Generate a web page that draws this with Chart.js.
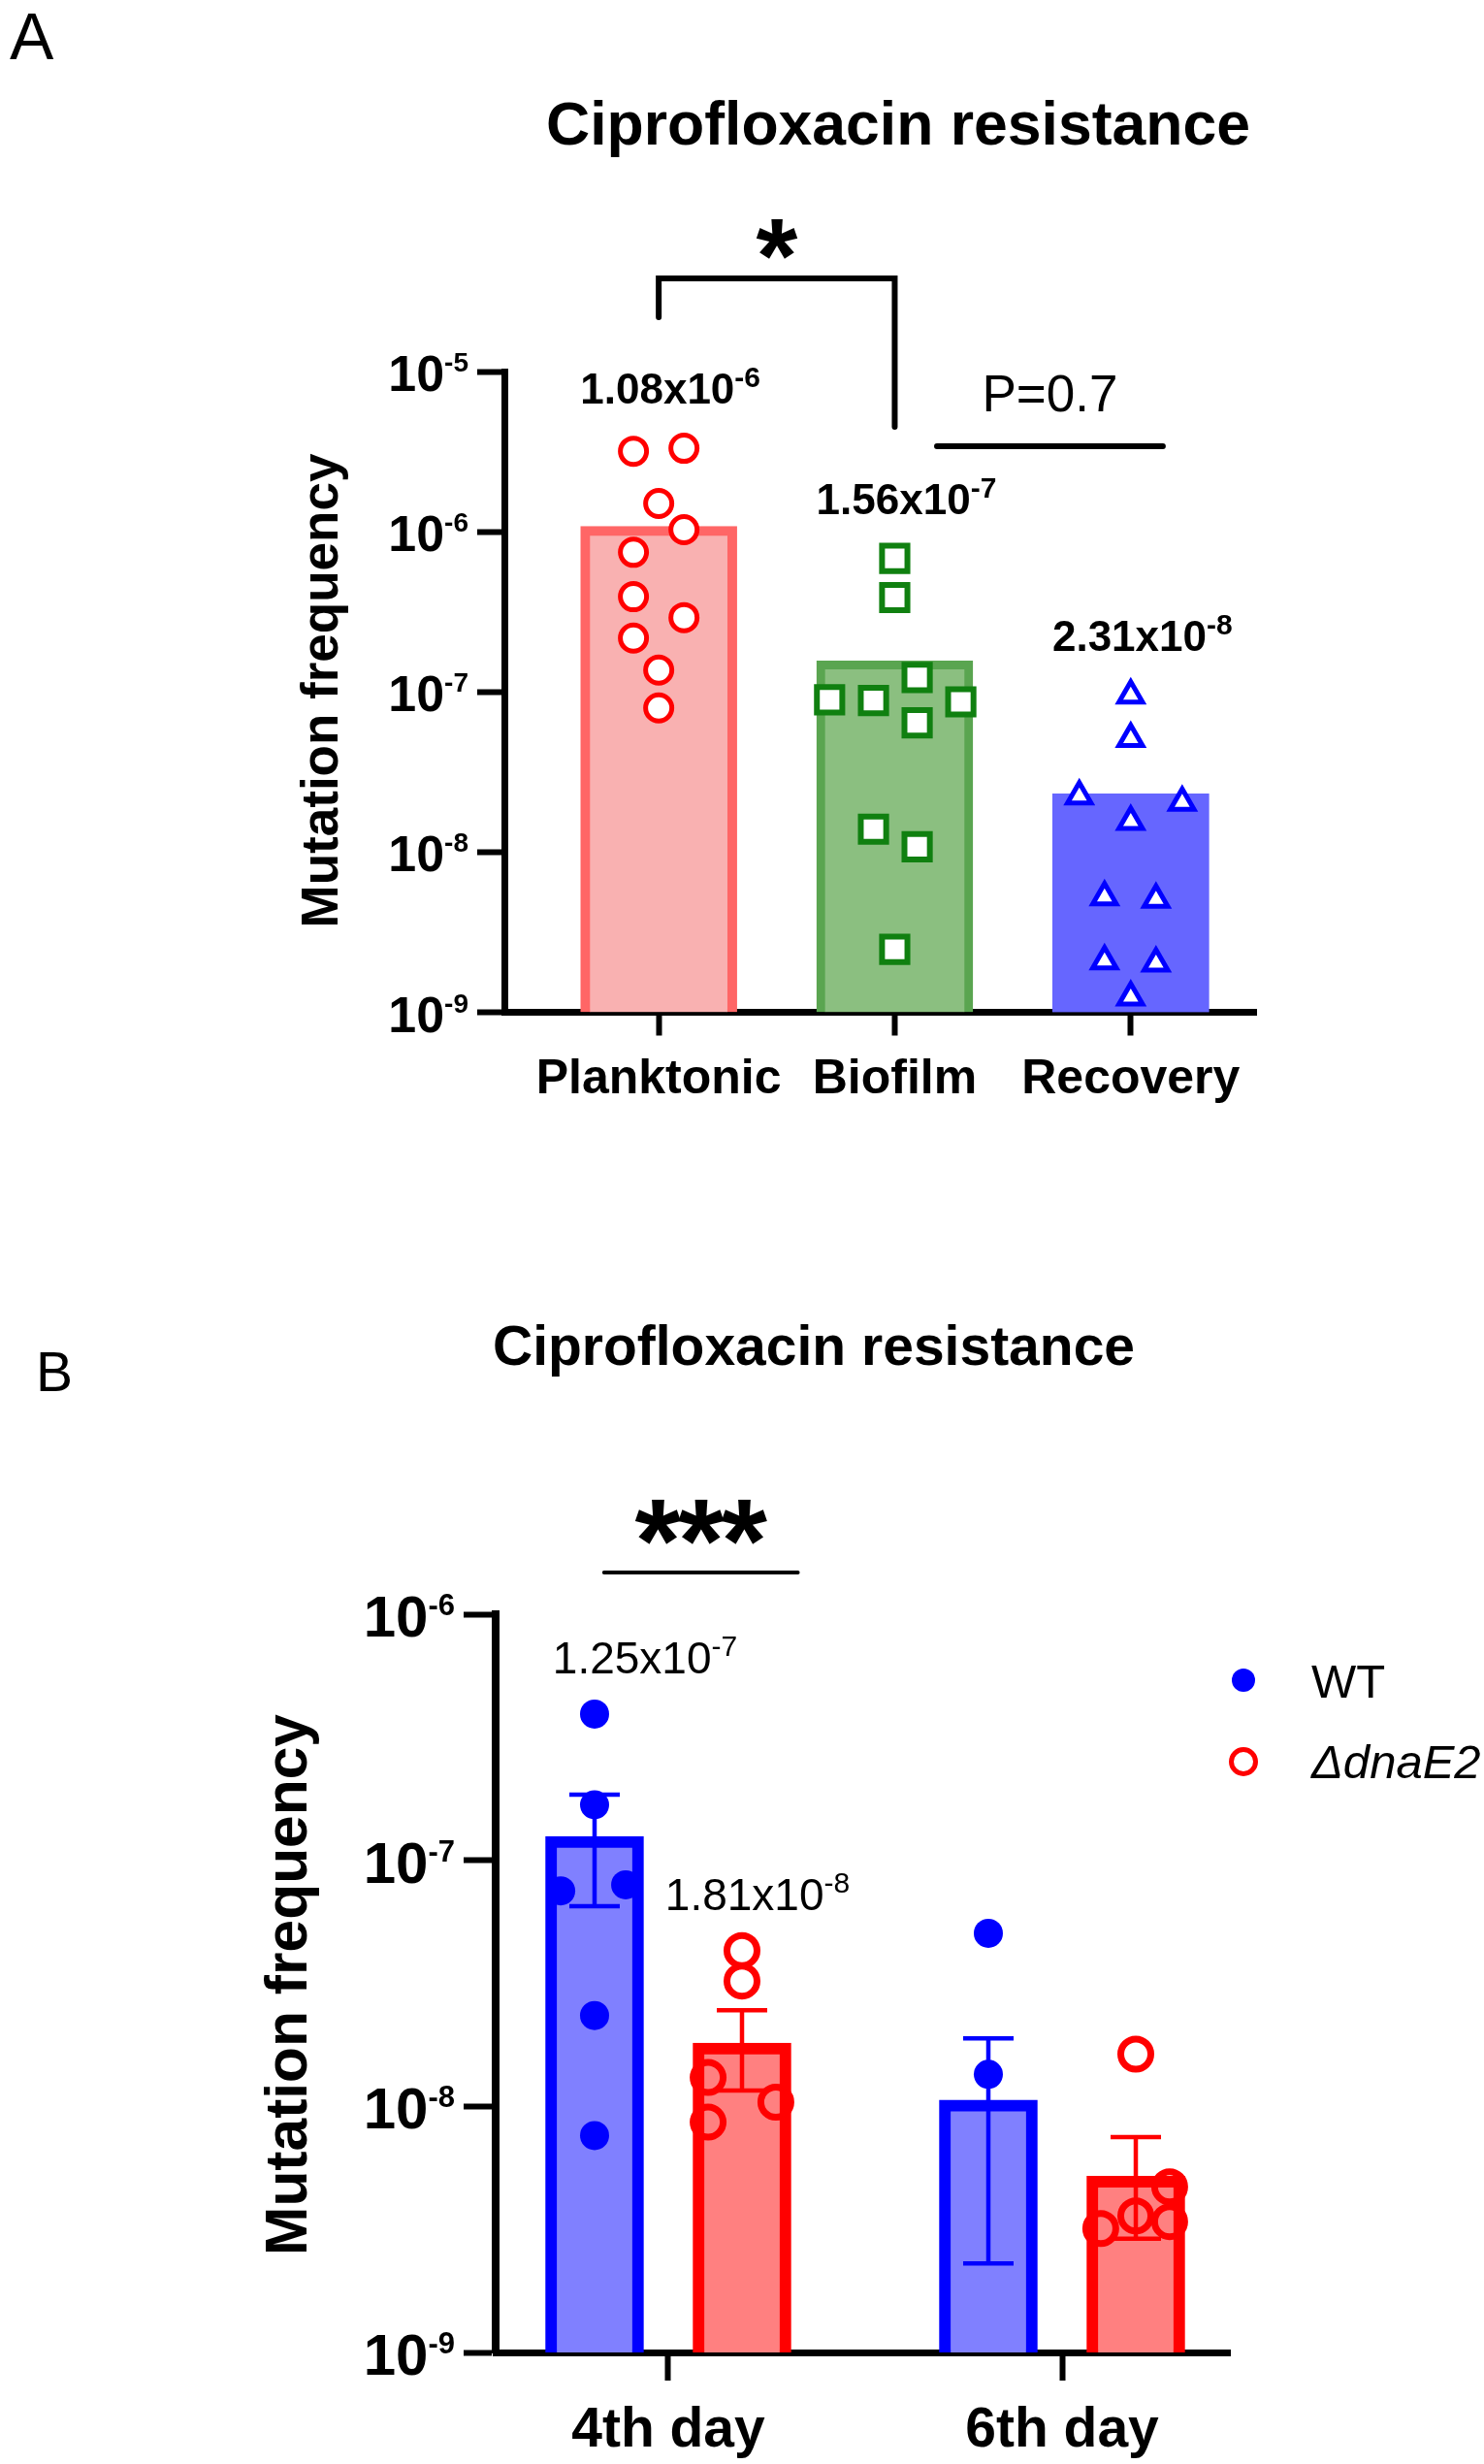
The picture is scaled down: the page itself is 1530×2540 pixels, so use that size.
<!DOCTYPE html>
<html>
<head>
<meta charset="utf-8">
<title>Ciprofloxacin resistance</title>
<script src="https://cdn.jsdelivr.net/npm/chart.js@4.4.1/dist/chart.umd.min.js"></script>
<style>
  html, body { margin: 0; padding: 0; background: #fff; }
  #wrap { position: relative; width: 1530px; height: 2540px; }
  canvas { position: absolute; left: 0; }
  #chartA { top: 0; }
  #chartB { top: 1300px; }
</style>
</head>
<body>
<div id="wrap">
  <canvas id="chartA" width="1530" height="1300"></canvas>
  <canvas id="chartB" width="1530" height="1240"></canvas>
</div>
<script>
// ---------- panel A data ----------
const groupsA = ['Planktonic', 'Biofilm', 'Recovery'];
const meansA = [1.08e-6, 1.56e-7, 2.31e-8];
const planktonic = [3.18e-6, 3.32e-6, 1.50e-6, 1.03e-6, 7.44e-7, 3.93e-7, 2.91e-7, 2.17e-7, 1.37e-7, 7.95e-8];
const biofilm = [6.82e-7, 3.88e-7, 1.23e-7, 8.93e-8, 8.83e-8, 8.67e-8, 6.41e-8, 1.39e-8, 1.08e-8, 2.47e-9];
const recovery = [9.53e-8, 5.10e-8, 2.23e-8, 2.04e-8, 1.55e-8, 5.24e-9, 5.06e-9, 2.09e-9, 2.02e-9, 1.24e-9];
const tickExpA = [-9, -8, -7, -6, -5];

// ---------- panel B data ----------
const daysB = ['4th day', '6th day'];
const wtMeans = [1.25e-7, 1.06e-8];
const wtSem = [6.0e-8, 8.3e-9];
const mutMeans = [1.81e-8, 5.2e-9];
const mutSem = [6.5e-9, 2.3e-9];
const wtDay4 = [3.93e-7, 1.68e-7, 7.51e-8, 7.95e-8, 2.34e-8, 7.61e-9];
const wtDay6 = [5.05e-8, 1.35e-8];
const mutDay4 = [4.30e-8, 3.23e-8, 1.31e-8, 1.04e-8, 8.63e-9];
const mutDay6 = [1.63e-8, 4.71e-9, 3.59e-9, 3.19e-9, 3.40e-9];
const tickExpB = [-9, -8, -7, -6];

// horizontal spread of the dots inside each column (in category widths)
const spreadA = [
  [-0.107, 0.107, 0, 0.107, -0.107, -0.107, 0.107, -0.107, 0, 0],
  [0, 0, 0.095, -0.276, -0.09, 0.28, 0.095, -0.09, 0.095, 0],
  [0, 0, -0.218, 0.218, 0, -0.111, 0.107, -0.111, 0.107, 0]
];
const spreadB = {
  wt4: [0, 0, -0.086, 0.079, 0, 0],
  wt6: [0, 0],
  mut4: [0, 0, -0.086, 0.086, -0.086],
  mut6: [0, 0.086, 0, -0.089, 0.086]
};
const BAR_SHIFT_B = 0.1872; // WT left of the day tick, dnaE2 right of it

const FONT = '"Liberation Sans", Arial, Helvetica, sans-serif';
const font = (px, weight, style) => (style || '') + ' ' + (weight || 'normal') + ' ' + px + 'px ' + FONT;

function dots(values, cat, spread) {
  return values.map((v, i) => ({ x: cat + spread[i], y: v }));
}

// text with a raised exponent, (x, y) = baseline of the main part
function supText(ctx, main, sup, x, y, mainPx, supPx, weight, rise, align) {
  ctx.font = font(mainPx, weight);
  const wm = ctx.measureText(main).width;
  ctx.font = font(supPx, weight);
  const ws = ctx.measureText(sup).width;
  let x0 = x;
  if (align === 'center') x0 = x - (wm + ws) / 2;
  if (align === 'right') x0 = x - wm - ws;
  ctx.textAlign = 'left';
  ctx.textBaseline = 'alphabetic';
  ctx.font = font(mainPx, weight);
  ctx.fillText(main, x0, y);
  ctx.font = font(supPx, weight);
  ctx.fillText(sup, x0 + wm, y - rise);
}

function sci(v) {
  const e = Math.floor(Math.log10(v));
  return [(v / Math.pow(10, e)).toFixed(2) + 'x10', String(e)];
}

function line(ctx, pts, w) {
  ctx.beginPath();
  ctx.moveTo(pts[0][0], pts[0][1]);
  for (let i = 1; i < pts.length; i++) ctx.lineTo(pts[i][0], pts[i][1]);
  ctx.lineWidth = w;
  ctx.strokeStyle = '#000';
  ctx.lineCap = 'round';
  ctx.lineJoin = 'miter';
  ctx.stroke();
}

function axisOpts(tickLen, extra) {
  return Object.assign({
    z: 1,
    offset: false,
    grid: { display: true, offset: false, drawOnChartArea: false, drawTicks: true,
            tickLength: tickLen, tickWidth: 6, tickColor: '#000' },
    border: { display: true, color: '#000', width: 7 },
    ticks: { display: false }
  }, extra);
}

// ---------- panel A ----------
const annotA = {
  id: 'annotA',
  afterDraw(chart) {
    const ctx = chart.ctx;
    const xs = chart.scales.x, ys = chart.scales.y;
    ctx.save();
    ctx.fillStyle = '#000';

    ctx.font = font(68);
    ctx.textAlign = 'left';
    ctx.fillText('A', 10, 61);

    ctx.font = font(62.5, 'bold');
    ctx.textAlign = 'center';
    ctx.fillText('Ciprofloxacin resistance', 926, 149);

    tickExpA.forEach(e => {
      const y = ys.getPixelForValue(Math.pow(10, e));
      supText(ctx, '10', String(e), 483, y + 20, 52, 28, 'bold', 20, 'right');
    });

    ctx.font = font(50, 'bold');
    ctx.textAlign = 'center';
    groupsA.forEach((g, i) => ctx.fillText(g, xs.getPixelForValue(i), 1127));

    ctx.save();
    ctx.translate(348, 712);
    ctx.rotate(-Math.PI / 2);
    ctx.font = font(53, 'bold');
    ctx.textAlign = 'center';
    ctx.fillText('Mutation frequency', 0, 0);
    ctx.restore();

    // mean values above each column
    [planktonic, biofilm, recovery].forEach((vals, i) => {
      const top = ys.getPixelForValue(Math.max(...vals));
      const s = sci(meansA[i]);
      supText(ctx, s[0], s[1], xs.getPixelForValue(i) + 12, top - 46, 44, 30, 'bold', 17, 'center');
    });

    // Planktonic vs Biofilm bracket
    const x0 = xs.getPixelForValue(0), x1 = xs.getPixelForValue(1);
    line(ctx, [[x0, 327], [x0, 287], [x1, 287], [x1, 440]], 6);
    ctx.font = font(110, 'bold');
    ctx.textAlign = 'center';
    ctx.fillText('*', (x0 + x1) / 2, 301);

    // Biofilm vs Recovery
    const p0 = xs.getPixelForValue(1.179), p1 = xs.getPixelForValue(2.136);
    line(ctx, [[p0, 460], [p1, 460]], 6);
    ctx.font = font(53);
    ctx.fillText('P=0.7', (p0 + p1) / 2, 424);
    ctx.restore();
  }
};

new Chart(document.getElementById('chartA'), {
  type: 'bar',
  data: {
    datasets: [
      { type: 'scatter', data: dots(planktonic, 0, spreadA[0]), order: 0,
        pointStyle: 'circle', pointRadius: 13.5, pointBorderWidth: 5,
        pointBorderColor: '#ff0000', pointBackgroundColor: '#ffffff' },
      { type: 'scatter', data: dots(biofilm, 1, spreadA[1]), order: 0,
        pointStyle: 'rect', pointRadius: 18.5, pointBorderWidth: 6,
        pointBorderColor: '#108010', pointBackgroundColor: '#ffffff' },
      { type: 'scatter', data: dots(recovery, 2, spreadA[2]), order: 0,
        pointStyle: 'triangle', pointRadius: 14, pointBorderWidth: 5,
        pointBorderColor: '#0000ff', pointBackgroundColor: '#ffffff' },
      { type: 'bar', data: meansA.map((v, i) => ({ x: i, y: v })), order: 1,
        barThickness: 161,
        backgroundColor: ['#f9b1b1', '#8bbf80', '#6666ff'],
        borderColor: ['#ff6666', '#5aa550', '#6666ff'],
        borderWidth: [10, 9, 0] }
    ]
  },
  options: {
    responsive: false,
    animation: false,
    devicePixelRatio: 1,
    events: [],
    layout: { padding: { left: 492, right: 235, top: 383, bottom: 232.5 } },
    plugins: { legend: { display: false }, tooltip: { enabled: false } },
    scales: {
      x: axisOpts(24, { type: 'linear', min: -0.654, max: 2.531,
        afterBuildTicks: s => { s.ticks = groupsA.map((g, i) => ({ value: i })); } }),
      y: axisOpts(28, { type: 'logarithmic', min: 1e-9, max: 1e-5,
        afterBuildTicks: s => { s.ticks = tickExpA.map(e => ({ value: Math.pow(10, e) })); } })
    }
  },
  plugins: [annotA]
});

// ---------- panel B ----------
const errorBarsB = {
  id: 'errorBarsB',
  afterDatasetsDraw(chart) {
    const ctx = chart.ctx;
    const xs = chart.scales.x, ys = chart.scales.y;
    ctx.save();
    [[wtMeans, wtSem, -BAR_SHIFT_B, '#0000ff'], [mutMeans, mutSem, BAR_SHIFT_B, '#ff0000']].forEach(([m, s, dx, c]) => {
      m.forEach((v, i) => {
        const x = xs.getPixelForValue(i + dx);
        const yt = ys.getPixelForValue(v + s[i]);
        const yb = ys.getPixelForValue(v - s[i]);
        ctx.strokeStyle = c;
        ctx.lineWidth = 4.5;
        ctx.lineCap = 'butt';
        ctx.beginPath();
        ctx.moveTo(x, yb); ctx.lineTo(x, yt);
        ctx.moveTo(x - 26, yt); ctx.lineTo(x + 26, yt);
        ctx.moveTo(x - 26, yb); ctx.lineTo(x + 26, yb);
        ctx.stroke();
      });
    });
    ctx.restore();
  }
};

const labelShiftB = [52, 16];

const annotB = {
  id: 'annotB',
  afterDraw(chart) {
    const ctx = chart.ctx;
    const xs = chart.scales.x, ys = chart.scales.y;
    ctx.save();
    ctx.fillStyle = '#000';

    ctx.font = font(57);
    ctx.textAlign = 'left';
    ctx.fillText('B', 37, 134);

    ctx.font = font(57, 'bold');
    ctx.textAlign = 'center';
    ctx.fillText('Ciprofloxacin resistance', 839, 107);

    tickExpB.forEach(e => {
      const y = ys.getPixelForValue(Math.pow(10, e));
      supText(ctx, '10', String(e), 469, y + 23, 60, 31, 'bold', 22, 'right');
    });

    ctx.font = font(57, 'bold');
    ctx.textAlign = 'center';
    daysB.forEach((d, i) => ctx.fillText(d, xs.getPixelForValue(i), 1222));

    ctx.save();
    ctx.translate(316, 746);
    ctx.rotate(-Math.PI / 2);
    ctx.font = font(60.5, 'bold');
    ctx.textAlign = 'center';
    ctx.fillText('Mutation frequency', 0, 0);
    ctx.restore();

    // day 4 means
    [[wtDay4, wtMeans[0], -BAR_SHIFT_B], [mutDay4, mutMeans[0], BAR_SHIFT_B]].forEach(([vals, m, dx], k) => {
      const top = ys.getPixelForValue(Math.max(...vals));
      const s = sci(m);
      supText(ctx, s[0], s[1], xs.getPixelForValue(dx) + labelShiftB[k], top - 42, 46, 30, 'normal', 18, 'center');
    });

    // WT vs dnaE2 on day 4
    const s0 = xs.getPixelForValue(-0.163), s1 = xs.getPixelForValue(0.329);
    line(ctx, [[s0, 321], [s1, 321]], 4);
    ctx.font = font(122, 'bold');
    ctx.textAlign = 'center';
    const sm = (s0 + s1) / 2;
    [-44.5, 0, 44.5].forEach(d => ctx.fillText('*', sm + d, 330));

    // legend
    ctx.fillStyle = '#0000ff';
    ctx.beginPath(); ctx.arc(1282, 432, 12, 0, Math.PI * 2); ctx.fill();
    ctx.strokeStyle = '#ff0000';
    ctx.lineWidth = 5;
    ctx.beginPath(); ctx.arc(1282, 516, 12.5, 0, Math.PI * 2); ctx.stroke();
    ctx.fillStyle = '#000';
    ctx.textAlign = 'left';
    ctx.font = font(49);
    ctx.fillText('WT', 1352, 450);
    ctx.font = font(49, 'normal', 'italic');
    ctx.fillText('\u0394dnaE2', 1352, 533);
    ctx.restore();
  }
};

new Chart(document.getElementById('chartB'), {
  type: 'bar',
  data: {
    datasets: [
      { type: 'scatter', label: 'WT', order: 0,
        data: dots(wtDay4, -BAR_SHIFT_B, spreadB.wt4).concat(dots(wtDay6, 1 - BAR_SHIFT_B, spreadB.wt6)),
        pointStyle: 'circle', pointRadius: 15, pointBorderWidth: 0,
        pointBackgroundColor: '#0000ff', pointBorderColor: '#0000ff' },
      { type: 'scatter', label: '\u0394dnaE2', order: 0,
        data: dots(mutDay4, BAR_SHIFT_B, spreadB.mut4).concat(dots(mutDay6, 1 + BAR_SHIFT_B, spreadB.mut6)),
        pointStyle: 'circle', pointRadius: 15.5, pointBorderWidth: 7,
        pointBackgroundColor: 'rgba(0,0,0,0)', pointBorderColor: '#ff0000' },
      { type: 'bar', order: 1, grouped: false, barThickness: 101,
        data: wtMeans.map((v, i) => ({ x: i - BAR_SHIFT_B, y: v })),
        backgroundColor: '#8080ff', borderColor: '#0000ff', borderWidth: 12 },
      { type: 'bar', order: 1, grouped: false, barThickness: 101,
        data: mutMeans.map((v, i) => ({ x: i + BAR_SHIFT_B, y: v })),
        backgroundColor: '#ff8080', borderColor: '#ff0000', borderWidth: 12 }
    ]
  },
  options: {
    responsive: false,
    animation: false,
    devicePixelRatio: 1,
    events: [],
    layout: { padding: { left: 478, right: 262, top: 364, bottom: 86 } },
    plugins: { legend: { display: false }, tooltip: { enabled: false } },
    scales: {
      x: axisOpts(29, { type: 'linear', min: -0.4384, max: 1.4261,
        afterBuildTicks: s => { s.ticks = daysB.map((d, i) => ({ value: i })); } }),
      y: axisOpts(33, { type: 'logarithmic', min: 1e-9, max: 1e-6,
        border: { display: true, color: '#000', width: 8 },
        afterBuildTicks: s => { s.ticks = tickExpB.map(e => ({ value: Math.pow(10, e) })); } })
    }
  },
  plugins: [errorBarsB, annotB]
});
</script>
</body>
</html>
